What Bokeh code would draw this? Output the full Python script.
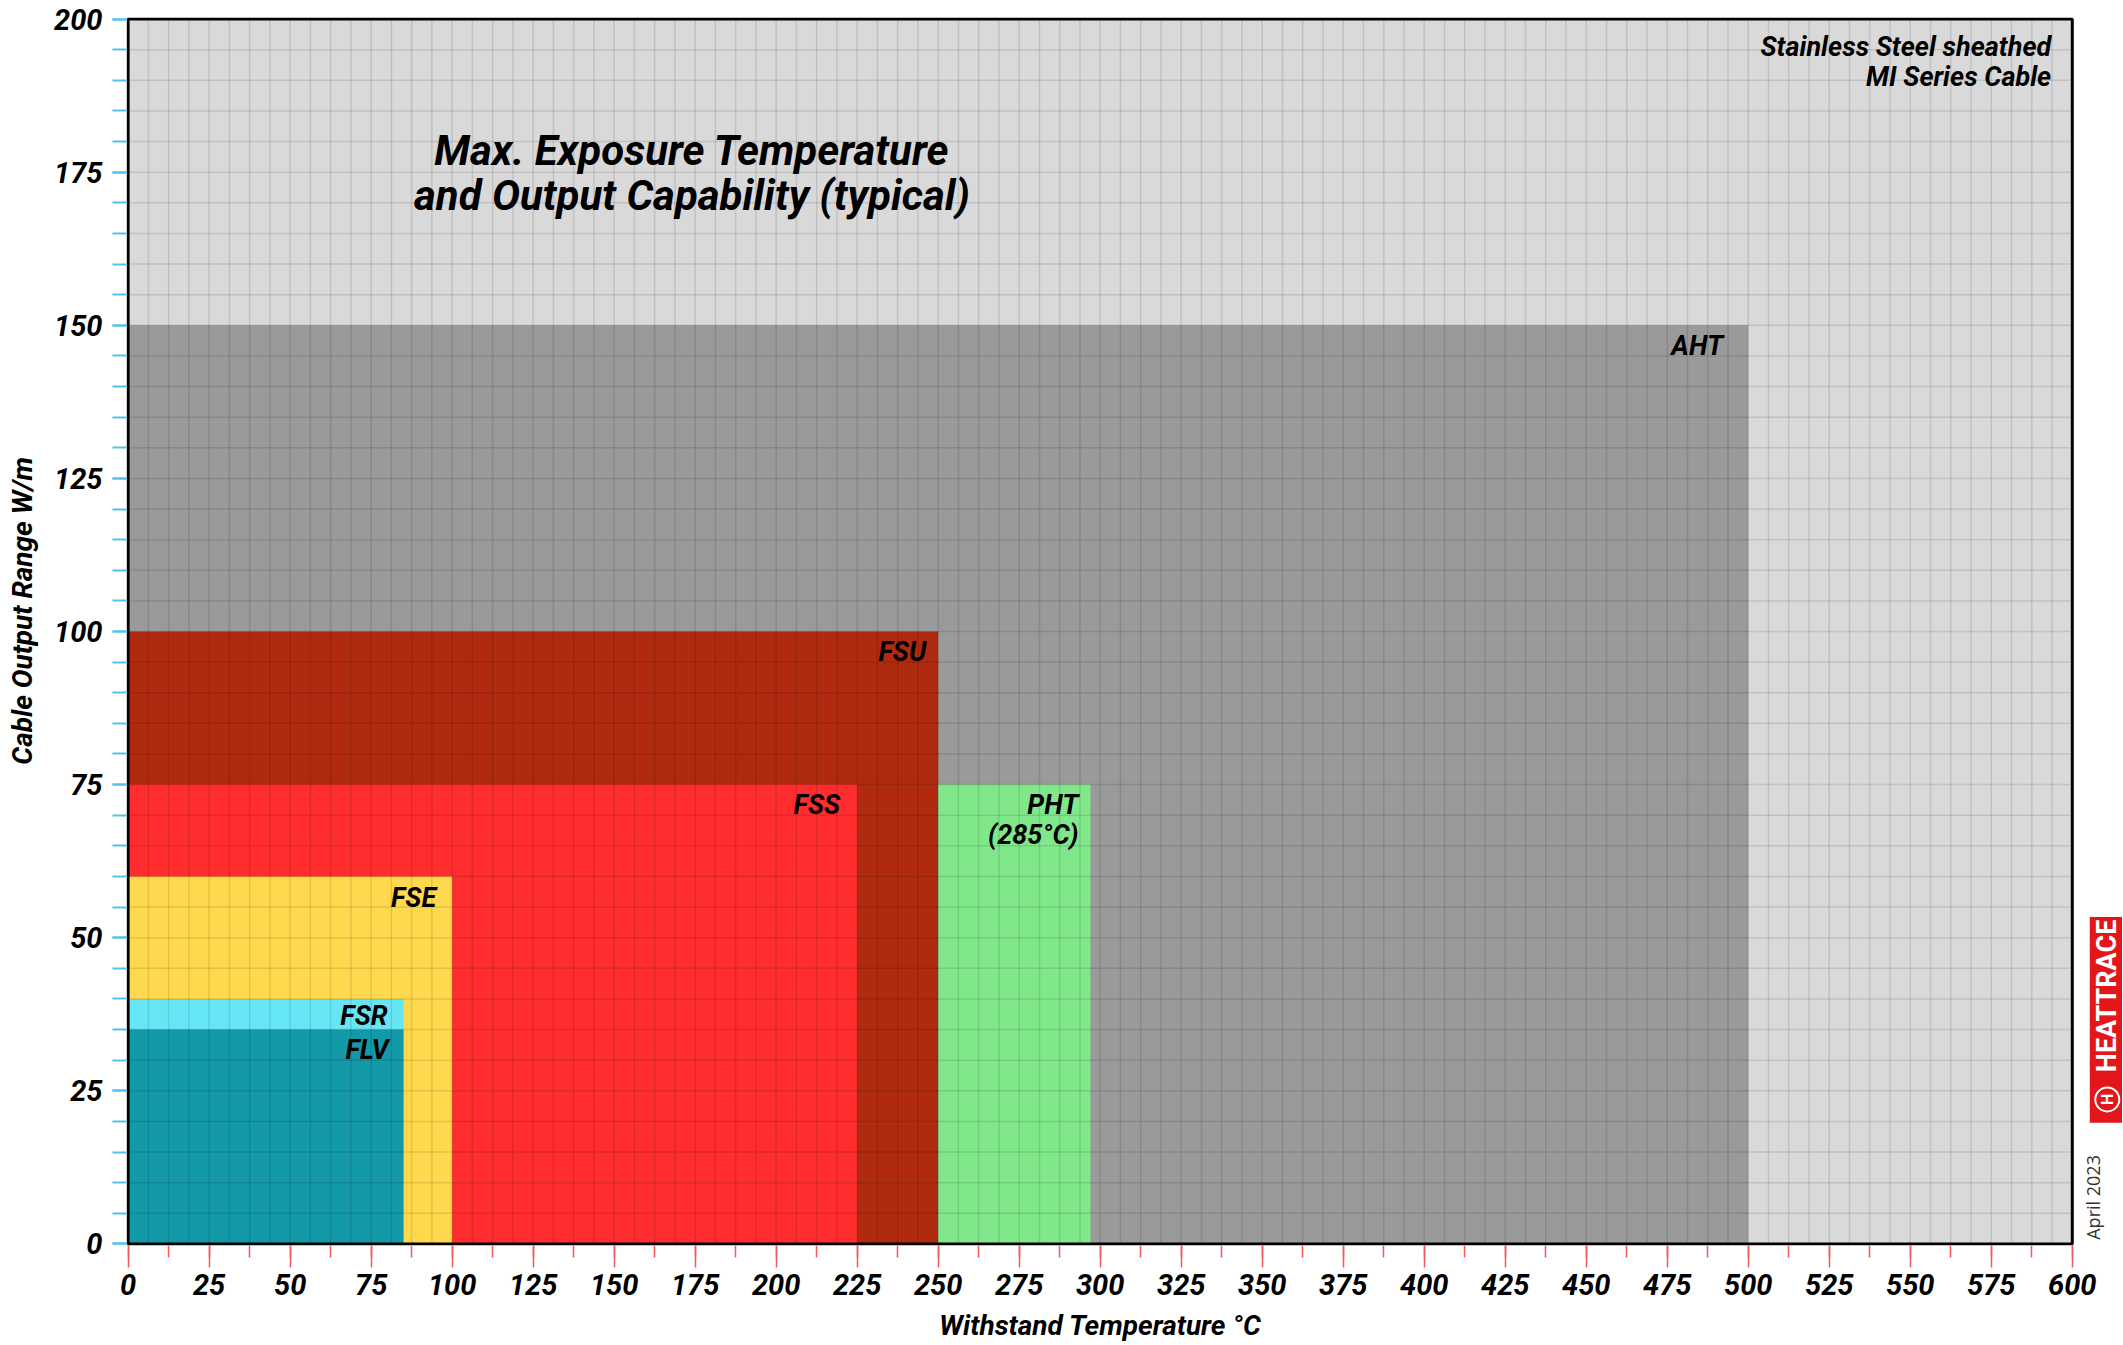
import math
import numpy as np
from bokeh.plotting import figure
from bokeh.models import Range1d, SingleIntervalTicker, FixedTicker, ColumnDataSource
from bokeh.core.properties import value
from bokeh.embed import file_html
from bokeh.resources import INLINE

# ---- data ----
cables = ["MI", "AHT", "FSU", "FSS", "PHT", "FSE", "FSR", "FLV"]
temp_min = [0, 0, 0, 0, 250, 0, 0, 0]
temp_max = [600, 500, 250, 225, 297, 100, 85, 85]
output_min = [0, 0, 0, 0, 0, 0, 0, 0]
output_max = [200, 150, 100, 75, 75, 60, 40, 35]
cable_labels = ["Stainless Steel sheathed\nMI Series Cable", "AHT", "FSU", "FSS",
                "PHT\n(285°C)", "FSE", "FSR", "FLV"]
cable_colors = ["#d9d9d9", "#9a9a9a", "#b02a10", "#ff2d2d", "#80e88a",
                "#ffd94d", "#66e6f5", "#1499a8"]
label_dx = [-21, -25, -12, -17, -12, -16, -16, -15]
label_dy = [12, 5, 4, 4, 4, 6, 1, 4]

x_ticks = list(range(0, 601, 25))
x_minor_ticks = [12.5 * i for i in range(0, 49)]
y_tick_interval = 25

FONT = "Roboto"
NBSP = "\u00a0"

X_MAX = 600
Y_MAX = 200

src = ColumnDataSource(dict(
    left=temp_min, right=temp_max, bottom=output_min, top=output_max,
    color=cable_colors, label=cable_labels, dx=label_dx, dy=label_dy,
))

p = figure(width=2122, height=1344, output_backend="svg", toolbar_location=None,
           x_range=Range1d(-0.5, 615.5), y_range=Range1d(-0.25, 200.25),
           min_border_left=126, min_border_right=0, min_border_top=17, min_border_bottom=99)
p.border_fill_color = "white"
p.background_fill_color = "white"
p.outline_line_color = None
p.grid.visible = False

p.quad(left="left", right="right", bottom="bottom", top="top", fill_color="color",
       line_color=None, source=src)

# grid lines limited to the chart area, drawn over the boxes
gx = np.arange(0, X_MAX + 0.01, 6.25)
gy = np.arange(0, Y_MAX + 0.01, 5)
p.segment(x0=gx, x1=gx, y0=0, y1=Y_MAX, line_color="black", line_alpha=0.11, line_width=1.5)
p.segment(x0=0, x1=X_MAX, y0=gy, y1=gy, line_color="black", line_alpha=0.11, line_width=1.5)

# chart frame
p.quad(left=0, right=X_MAX, bottom=0, top=Y_MAX, fill_color=None,
       line_color="black", line_width=3)

p.text(x="right", y="top", text="label", x_offset="dx", y_offset="dy",
       text_align="right", text_baseline="top", text_font=value(FONT),
       text_font_style="bold italic", text_font_size="27px", text_color="black",
       text_line_height=0.95, source=src)

# axes
p.xaxis.ticker = FixedTicker(ticks=x_ticks, minor_ticks=x_minor_ticks)
p.yaxis.ticker = SingleIntervalTicker(interval=y_tick_interval, num_minor_ticks=5)
for ax in (p.xaxis, p.yaxis):
    ax.axis_line_color = None
    ax.major_label_text_font = FONT
    ax.major_label_text_font_style = "bold italic"
    ax.major_label_text_font_size = "29px"
    ax.major_label_text_color = "black"
    ax.axis_label_text_font = FONT
    ax.axis_label_text_font_style = "bold italic"
    ax.axis_label_text_font_size = "28px"
    ax.axis_label_text_color = "black"
    ax.major_tick_in = 0
    ax.minor_tick_in = 0

# the frame extends past 600 to hold the logo; pad the x label so it centres under 0-600
p.xaxis.axis_label = "Withstand Temperature °C" + NBSP * 7
p.xaxis.major_tick_out = 22
p.xaxis.minor_tick_out = 12
p.xaxis.major_tick_line_color = "#f05a5a"
p.xaxis.minor_tick_line_color = "#f05a5a"
p.xaxis.major_tick_line_width = 1.5
p.xaxis.minor_tick_line_width = 1.5
p.xaxis.major_label_standoff = 6
p.xaxis.axis_label_standoff = 11

p.yaxis.axis_label = NBSP * 6 + "Cable Output Range W/m"
p.yaxis.major_tick_out = 14
p.yaxis.minor_tick_out = 14
p.yaxis.major_tick_line_color = "#4fc3f0"
p.yaxis.minor_tick_line_color = "#4fc3f0"
p.yaxis.major_tick_line_width = 2
p.yaxis.minor_tick_line_width = 2
p.yaxis.major_label_standoff = 10
p.yaxis.axis_label_standoff = 12

# chart title inside the plot
p.text(x=[174], y=[174.9], text=["Max. Exposure Temperature\nand Output Capability (typical)"],
       text_align="center", text_baseline="middle", text_font=value(FONT),
       text_font_style="bold italic", text_font_size="42px", text_color="black",
       text_line_height=0.92)

# logo and date in the right margin
p.quad(left=605.4, right=616, bottom=19.8, top=53.4, fill_color="#e2161b", line_color=None)
p.text(x=[610.8], y=[40.5], text=["HEATTRACE"], angle=math.pi / 2,
       text_align="center", text_baseline="middle", text_font=value(FONT),
       text_font_style="bold", text_font_size="27px", text_color="white")
p.scatter(x=[610.8], y=[23.6], size=24, marker="circle", fill_color=None,
          line_color="white", line_width=2)
p.text(x=[610.8], y=[23.6], text=["H"], angle=math.pi / 2,
       text_align="center", text_baseline="middle", text_font=value(FONT),
       text_font_style="bold", text_font_size="16px", text_color="white")
p.text(x=[606.3], y=[7.6], text=["April 2023"], angle=math.pi / 2,
       text_align="center", text_baseline="middle", text_font=value("Open Sans"),
       text_font_size="18px", text_color="#333333")

open("out.html", "w").write(file_html(p, INLINE))
